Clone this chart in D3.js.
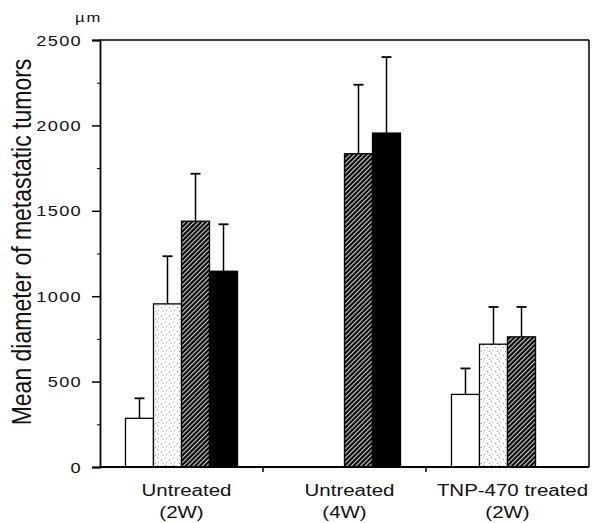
<!DOCTYPE html>
<html>
<head>
<meta charset="utf-8">
<script src="https://cdn.jsdelivr.net/npm/d3@7"></script>
<style>
  body { margin: 0; background: #fff; }
  text { font-family: "Liberation Sans", Arial, Helvetica, sans-serif; fill: #111; }
</style>
</head>
<body>
<div id="chart"></div>
<script>
// Data (um)
var groups = ["Untreated|(2W)", "Untreated|(4W)", "TNP-470 treated|(2W)"];
var seriesKeys = ["open", "dotted", "hatched", "solid"];
var means = [
  [285, 955, 1439, 1146],
  [null, null, 1834, 1955],
  [425, 719, 762, null]
];
var errors = [
  [117, 279, 278, 275],
  [null, null, 404, 445],
  [152, 218, 175, null]
];
var yTicks = [0, 500, 1000, 1500, 2000, 2500];
var yMinorTicks = [250, 750, 1250, 1750, 2250];

// Set the dimensions and margins
var margin = {top: 40, right: 9, bottom: 56, left: 100},
    width = 598 - margin.left - margin.right,
    height = 523 - margin.top - margin.bottom;

var svg = d3.select("#chart").append("svg")
    .attr("width", 598)
    .attr("height", 523)
  .append("g")
    .attr("transform", "translate(" + margin.left + "," + margin.top + ")");

// Fill patterns
var defs = svg.append("defs");
var dots = defs.append("pattern")
    .attr("id", "dots")
    .attr("patternUnits", "userSpaceOnUse")
    .attr("width", 8).attr("height", 8);
dots.append("rect").attr("width", 8).attr("height", 8).attr("fill", "#fff");
[[1, 1], [5, 3], [2, 6], [7, 7]].forEach(function(p) {
  dots.append("rect").attr("x", p[0]).attr("y", p[1])
      .attr("width", 1).attr("height", 1).attr("fill", "#999");
});

var hatch = defs.append("pattern")
    .attr("id", "hatch")
    .attr("patternUnits", "userSpaceOnUse")
    .attr("width", 3.3).attr("height", 3.3)
    .attr("patternTransform", "rotate(45)");
hatch.append("rect").attr("width", 3.3).attr("height", 3.3).attr("fill", "#000");
hatch.append("line").attr("x1", 0.6).attr("y1", 0).attr("x2", 0.6).attr("y2", 3.3)
    .attr("stroke", "#eee").attr("stroke-width", 1);

var fills = {open: "#fff", dotted: "url(#dots)", hatched: "url(#hatch)", solid: "#000"};

// Scales
var x0 = d3.scaleBand().domain(groups).range([0, width]);
var x1 = d3.scaleBand().domain(seriesKeys).range([0, x0.bandwidth()]).paddingOuter(0.91);
var y = d3.scaleLinear().domain([0, 2500]).range([height, 0]);

// Frame
svg.append("line").attr("x1", 0).attr("x2", width).attr("y1", 0).attr("y2", 0)
    .attr("stroke", "#000").attr("stroke-width", 1.5);
svg.append("line").attr("x1", width).attr("x2", width).attr("y1", 0).attr("y2", height)
    .attr("stroke", "#000").attr("stroke-width", 1.5);

// Y axis
var yAxis = svg.append("g")
    .call(d3.axisLeft(y).tickValues(yTicks).tickSize(8).tickFormat(d3.format("d")));
yAxis.select(".domain").attr("stroke-width", 1.8);
yAxis.selectAll(".tick line").attr("stroke-width", 1.5);
yAxis.selectAll(".tick text")
    .attr("x", null).attr("dy", "0.36em")
    .attr("transform", "translate(-18,0) scale(1.3,1)")
    .style("font-size", "14px")
    .style("letter-spacing", "1px");

svg.append("g")
    .call(d3.axisLeft(y).tickValues(yMinorTicks).tickSize(3).tickFormat(""))
    .call(g => g.select(".domain").remove());

// unit label
svg.append("text")
    .attr("transform", "translate(-25,-18) scale(1.28,1)")
    .style("font-size", "13px")
    .style("letter-spacing", "1.5px")
    .text("\u00b5m");

// Y axis title
svg.append("text")
    .attr("transform", "translate(" + (-69) + "," + (242 - margin.top) + ") rotate(-90) scale(1,1.18)")
    .attr("text-anchor", "middle")
    .style("font-size", "23px")
    .text("Mean diameter of metastatic tumors");

// Bars
var group = svg.selectAll(".group")
    .data(groups)
  .enter().append("g")
    .attr("class", "group")
    .attr("transform", d => "translate(" + x0(d) + ",0)");

var bars = group.selectAll(".bar")
    .data((d, gi) => seriesKeys.map((k, si) => ({key: k, value: means[gi][si], err: errors[gi][si]}))
      .filter(b => b.value != null))
  .enter().append("g")
    .attr("class", "bar");

bars.append("line")
    .attr("x1", d => x1(d.key) + x1.bandwidth() / 2)
    .attr("x2", d => x1(d.key) + x1.bandwidth() / 2)
    .attr("y1", d => y(d.value))
    .attr("y2", d => y(d.value + d.err))
    .attr("stroke", "#000").attr("stroke-width", 1.5);

bars.append("line")
    .attr("x1", d => x1(d.key) + x1.bandwidth() / 2 - 5)
    .attr("x2", d => x1(d.key) + x1.bandwidth() / 2 + 5)
    .attr("y1", d => y(d.value + d.err))
    .attr("y2", d => y(d.value + d.err))
    .attr("stroke", "#000").attr("stroke-width", 1.8);

bars.append("rect")
    .attr("x", d => x1(d.key))
    .attr("y", d => y(d.value))
    .attr("width", x1.bandwidth())
    .attr("height", d => height - y(d.value))
    .attr("fill", d => fills[d.key])
    .attr("stroke", "#000")
    .attr("stroke-width", 1.3);

// X axis line and group separators
svg.append("line").attr("x1", 0).attr("x2", width).attr("y1", height).attr("y2", height)
    .attr("stroke", "#000").attr("stroke-width", 1.8);
svg.selectAll(".sep")
    .data(groups.slice(1))
  .enter().append("line")
    .attr("class", "sep")
    .attr("x1", d => x0(d)).attr("x2", d => x0(d))
    .attr("y1", height).attr("y2", height + 5)
    .attr("stroke", "#000").attr("stroke-width", 1.5);

// Group labels
group.each(function(d) {
  var lines = d.split("|");
  var g = d3.select(this);
  lines.forEach(function(t, i) {
    g.append("text")
      .attr("transform", "translate(" + (x0.bandwidth() / 2 + (i === 0 ? 5 : 0)) + "," + (height + 29 + i * 22) + ") scale(1.28,1)")
      .attr("text-anchor", "middle")
      .style("font-size", "16px")
      .text(t);
  });
});
</script>
</body>
</html>
